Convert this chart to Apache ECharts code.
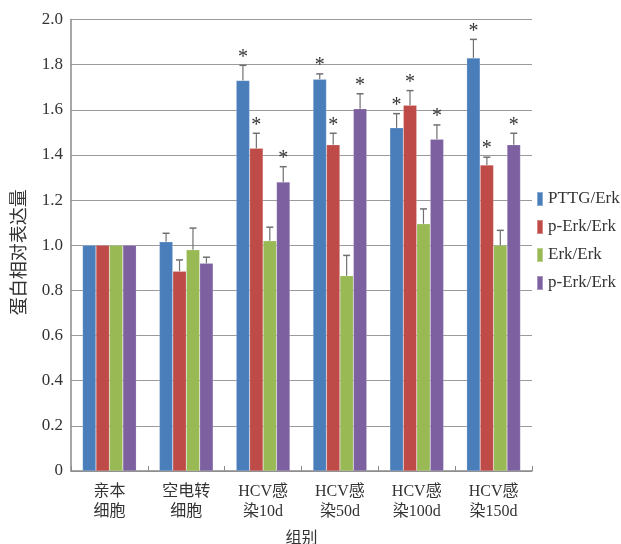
<!DOCTYPE html>
<html>
<head>
<meta charset="utf-8">
<script src="https://cdn.jsdelivr.net/npm/echarts@6/dist/echarts.min.js"></script>
<style>
  html, body { margin: 0; padding: 0; background: #fff; }
  #chart { width: 621px; height: 544px; }
</style>
</head>
<body>
<div id="chart"></div>
<script>
// Groups along the x axis
const categories = ['亲本\n细胞', '空电转\n细胞', 'HCV感\n染10d', 'HCV感\n染50d', 'HCV感\n染100d', 'HCV感\n染150d'];
// Two series share the label "p-Erk/Erk"; the trailing space keeps their keys distinct
const seriesNames = ['PTTG/Erk', 'p-Erk/Erk', 'Erk/Erk', 'p-Erk/Erk '];
const seriesColors = ['#4a7ebb', '#be4b48', '#98b954', '#7d60a0'];

// Mean relative expression per group
const pttgValues = [1.00, 1.015, 1.73, 1.735, 1.52, 1.83];
const pErkValues = [1.00, 0.885, 1.43, 1.445, 1.62, 1.355];
const erkValues = [1.00, 0.98, 1.02, 0.865, 1.095, 1.00];
const pErk2Values = [1.00, 0.92, 1.28, 1.605, 1.47, 1.445];

// Upper end of the error bar (null = none drawn)
const pttgErrTop = [null, 1.053, 1.797, 1.759, 1.583, 1.912];
const pErkErrTop = [null, 0.935, 1.496, 1.496, 1.685, 1.390];
const erkErrTop = [null, 1.076, 1.080, 0.955, 1.161, 1.066];
const pErk2ErrTop = [null, 0.947, 1.348, 1.671, 1.533, 1.496];

// Significance marks (1 = "*")
const pttgStar = [0, 0, 1, 1, 1, 1];
const pErkStar = [0, 0, 1, 1, 1, 1];
const erkStar = [0, 0, 0, 0, 0, 0];
const pErk2Star = [0, 0, 1, 1, 1, 1];

const values = [pttgValues, pErkValues, erkValues, pErk2Values];
const errTops = [pttgErrTop, pErkErrTop, erkErrTop, pErk2ErrTop];
const stars = [pttgStar, pErkStar, erkStar, pErk2Star];

const CAT_GAP = 0.30;
const NSER = 4;
const fontFamily = '"Liberation Serif", "Times New Roman", "Noto Sans CJK SC", serif';

const series = [];
values.forEach((vals, i) => {
  series.push({
    name: seriesNames[i],
    type: 'bar',
    data: vals,
    barGap: '0%',
    barCategoryGap: (CAT_GAP * 100) + '%',
    itemStyle: { color: seriesColors[i], borderColor: 'rgba(255,255,255,0.35)', borderWidth: 0.5 },
    emphasis: { disabled: true },
    z: 2
  });
});

// Error bars and asterisks, positioned on each bar through the axis scales
values.forEach((vals, i) => {
  const data = vals.map((v, k) => [k, v, errTops[i][k] == null ? v : errTops[i][k], stars[i][k], errTops[i][k] == null ? 0 : 1]);
  series.push({
    type: 'custom',
    name: 'err' + i,
    legendHoverLink: false,
    silent: true,
    z: 3,
    data: data,
    encode: { x: 0, y: 1 },
    renderItem: function (params, api) {
      const cat = api.value(0);
      const band = api.size([1, 0])[0];
      const groupW = band * (1 - CAT_GAP);
      const barW = groupW / NSER;
      const center = api.coord([cat, 0])[0];
      const x = center - groupW / 2 + barW * (i + 0.5);
      const yVal = api.coord([cat, api.value(1)])[1];
      const yErr = api.coord([cat, api.value(2)])[1];
      const children = [];
      if (api.value(4)) {
        children.push({
          type: 'line',
          shape: { x1: x, y1: yVal, x2: x, y2: yErr },
          style: { stroke: '#707070', lineWidth: 1.2 }
        });
        children.push({
          type: 'line',
          shape: { x1: x - 3.5, y1: yErr, x2: x + 3.5, y2: yErr },
          style: { stroke: '#707070', lineWidth: 1.5 }
        });
      }
      if (api.value(3)) {
        children.push({
          type: 'text',
          style: {
            x: x, y: yErr - 8,
            text: '*',
            fill: '#333',
            font: '20px "Liberation Serif", serif',
            textAlign: 'center',
            textVerticalAlign: 'middle'
          }
        });
      }
      return { type: 'group', children: children };
    }
  });
});

const chart = echarts.init(document.getElementById('chart'), null, { renderer: 'canvas' });
chart.setOption({
  animation: false,
  backgroundColor: '#fff',
  grid: { left: 71, right: 89, top: 19.5, bottom: 73, containLabel: false, outerBoundsMode: 'none' },
  legend: {
    orient: 'vertical',
    left: 531,
    top: 185,
    itemWidth: 6,
    itemHeight: 14,
    itemGap: 10,
    icon: 'rect',
    data: seriesNames.map((n, i) => ({ name: n, itemStyle: { color: seriesColors[i] } })),
    formatter: name => name.trim(),
    textStyle: { fontFamily: fontFamily, fontSize: 17, lineHeight: 18, color: '#333' },
    selectedMode: false
  },
  xAxis: {
    type: 'category',
    data: categories,
    name: '组别',
    nameLocation: 'middle',
    nameGap: 60,
    nameTextStyle: { fontFamily: fontFamily, fontSize: 16, color: '#333' },
    axisLine: { lineStyle: { color: '#8a8a8a', width: 1.5 } },
    axisTick: { show: true, inside: true, length: 5, lineStyle: { color: '#8a8a8a' } },
    axisLabel: { fontFamily: fontFamily, fontSize: 16, color: '#333', lineHeight: 20, margin: 11 }
  },
  yAxis: {
    type: 'value',
    min: 0,
    max: 2,
    interval: 0.2,
    name: '蛋白相对表达量',
    nameLocation: 'middle',
    nameGap: 42,
    nameRotate: 90,
    nameTextStyle: { fontFamily: fontFamily, fontSize: 18, color: '#333', padding: [0, 14, 0, 0] },
    axisLine: { show: true, lineStyle: { color: '#8a8a8a', width: 1.5 } },
    axisTick: { show: false },
    splitLine: { lineStyle: { color: '#9a9a9a', width: 1.2 } },
    axisLabel: {
      fontFamily: fontFamily, fontSize: 17, color: '#333', margin: 8,
      formatter: v => (v === 0 ? '0' : v.toFixed(1))
    }
  },
  series: series
});
</script>
</body>
</html>
